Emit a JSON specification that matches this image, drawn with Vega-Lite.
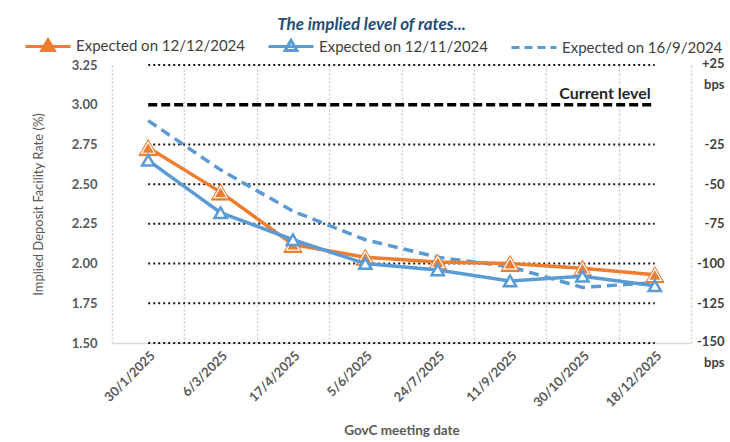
{
  "$schema": "https://vega.github.io/schema/vega-lite/v6.json",
  "width": 579,
  "height": 278,
  "autosize": {"type": "none"},
  "padding": {"left": 112, "top": 65, "right": 39, "bottom": 99},
  "background": "white",
  "config": {
    "font": "Lato",
    "view": {"stroke": null},
    "axisX": {
      "titleFont": "Lato", "titleFontSize": 13.5, "titleFontWeight": "bold", "titleColor": "#595959", "titlePadding": 14,
      "labelAngle": -45, "labelFont": "Lato", "labelFontSize": 13, "labelFontWeight": "bold", "labelColor": "#595959", "labelPadding": 6,
      "ticks": false, "domain": true, "domainColor": "#d9d9d9", "domainWidth": 1.5,
      "grid": true, "gridColor": "#cfcfcf", "gridDash": [2, 2], "gridWidth": 1.5, "tickBand": "extent"
    }
  },
  "title": {"text": "The implied level of rates...", "font": "Lato", "fontSize": 17, "fontStyle": "italic", "fontWeight": "bold", "color": "#1F4E79", "anchor": "middle", "dx": -30, "offset": -12},
  "datasets": {
    "rates": [
      {"date": "30/1/2025", "series": "Expected on 12/12/2024", "rate": 2.73},
      {"date": "6/3/2025", "series": "Expected on 12/12/2024", "rate": 2.45},
      {"date": "17/4/2025", "series": "Expected on 12/12/2024", "rate": 2.12},
      {"date": "5/6/2025", "series": "Expected on 12/12/2024", "rate": 2.04},
      {"date": "24/7/2025", "series": "Expected on 12/12/2024", "rate": 2.01},
      {"date": "11/9/2025", "series": "Expected on 12/12/2024", "rate": 2.0},
      {"date": "30/10/2025", "series": "Expected on 12/12/2024", "rate": 1.97},
      {"date": "18/12/2025", "series": "Expected on 12/12/2024", "rate": 1.93},
      {"date": "30/1/2025", "series": "Expected on 12/11/2024", "rate": 2.65},
      {"date": "6/3/2025", "series": "Expected on 12/11/2024", "rate": 2.32},
      {"date": "17/4/2025", "series": "Expected on 12/11/2024", "rate": 2.15},
      {"date": "5/6/2025", "series": "Expected on 12/11/2024", "rate": 2.0},
      {"date": "24/7/2025", "series": "Expected on 12/11/2024", "rate": 1.96},
      {"date": "11/9/2025", "series": "Expected on 12/11/2024", "rate": 1.89},
      {"date": "30/10/2025", "series": "Expected on 12/11/2024", "rate": 1.92},
      {"date": "18/12/2025", "series": "Expected on 12/11/2024", "rate": 1.86},
      {"date": "30/1/2025", "series": "Expected on 16/9/2024", "rate": 2.9},
      {"date": "6/3/2025", "series": "Expected on 16/9/2024", "rate": 2.59},
      {"date": "17/4/2025", "series": "Expected on 16/9/2024", "rate": 2.33},
      {"date": "5/6/2025", "series": "Expected on 16/9/2024", "rate": 2.15},
      {"date": "24/7/2025", "series": "Expected on 16/9/2024", "rate": 2.04},
      {"date": "11/9/2025", "series": "Expected on 16/9/2024", "rate": 1.98},
      {"date": "30/10/2025", "series": "Expected on 16/9/2024", "rate": 1.85},
      {"date": "18/12/2025", "series": "Expected on 16/9/2024", "rate": 1.88}
    ],
    "levels": [
      {"rate": 1.5, "from": "30/1/2025", "to": "18/12/2025"},
      {"rate": 1.75, "from": "30/1/2025", "to": "18/12/2025"},
      {"rate": 2.0, "from": "30/1/2025", "to": "18/12/2025"},
      {"rate": 2.25, "from": "30/1/2025", "to": "18/12/2025"},
      {"rate": 2.5, "from": "30/1/2025", "to": "18/12/2025"},
      {"rate": 2.75, "from": "30/1/2025", "to": "18/12/2025"},
      {"rate": 3.25, "from": "30/1/2025", "to": "18/12/2025"}
    ],
    "current": [
      {"rate": 3.0, "from": "30/1/2025", "to": "18/12/2025", "label": "Current level"}
    ]
  },
  "encoding": {
    "x": {
      "field": "date",
      "type": "ordinal",
      "scale": {"type": "band", "domain": ["30/1/2025", "6/3/2025", "17/4/2025", "5/6/2025", "24/7/2025", "11/9/2025", "30/10/2025", "18/12/2025"], "paddingInner": 0, "paddingOuter": 0},
      "axis": {"title": "GovC meeting date"}
    }
  },
  "layer": [
    {
      "encoding": {
        "y": {"field": "rate", "type": "quantitative", "scale": {"domain": [1.5, 3.25], "nice": false, "zero": false},
          "axis": {"title": "Implied Deposit Facility Rate (%)", "titleFont": "Lato", "titleFontSize": 13, "titleFontWeight": "normal", "titleColor": "#595959", "titlePadding": 26,
            "values": [1.5, 1.75, 2.0, 2.25, 2.5, 2.75, 3.0, 3.25], "format": ".2f", "labelFont": "Lato", "labelFontSize": 13, "labelFontWeight": "bold", "labelColor": "#595959", "labelPadding": 15,
            "ticks": false, "domain": false, "grid": false, "labelFlush": false, "labelOverlap": false}}
      },
      "layer": [
        {
          "data": {"name": "levels"},
          "mark": {"type": "rule", "color": "#1a1a1a", "strokeWidth": 2, "strokeDash": [2, 3]},
          "encoding": {
            "x": {"field": "from", "type": "ordinal", "axis": {"title": "GovC meeting date"}},
            "x2": {"field": "to"}
          }
        },
        {
          "data": {"name": "current"},
          "mark": {"type": "rule", "color": "#000000", "strokeWidth": 3.5, "strokeDash": [9, 4]},
          "encoding": {
            "x": {"field": "from", "type": "ordinal", "axis": {"title": "GovC meeting date"}},
            "x2": {"field": "to"}
          }
        },
        {
          "data": {"name": "current"},
          "mark": {"type": "text", "align": "right", "baseline": "alphabetic", "dx": -4, "dy": -6, "font": "Lato", "fontSize": 16, "fontWeight": "bold", "color": "#262626"},
          "encoding": {
            "x": {"field": "to", "type": "ordinal", "axis": {"title": "GovC meeting date"}},
            "text": {"field": "label"}
          }
        },
        {
          "data": {"name": "rates"},
          "transform": [{"filter": "datum.series == 'Expected on 16/9/2024'"}],
          "mark": {"type": "line", "strokeWidth": 3.5, "strokeDash": [10, 6]},
          "encoding": {
            "color": {"field": "series", "type": "nominal",
              "scale": {"domain": ["Expected on 12/12/2024", "Expected on 12/11/2024", "Expected on 16/9/2024"], "range": ["#ED7D31", "#5B9BD5", "#5B9BD5"]},
              "legend": {
                "title": null, "orient": "none", "legendX": -88, "legendY": -43, "direction": "horizontal", "columns": 3,
                "labelFont": "Lato", "labelFontSize": 15, "labelColor": "#404040", "labelOffset": 4, "columnPadding": 17, "labelLimit": 300,
                "symbolSize": 2025, "symbolStrokeWidth": 3,
                "encode": {
                  "symbols": {
                    "update": {
                      "shape": {"signal": "datum.value == 'Expected on 12/12/2024' ? 'M-1,0H1M-0.28,0.18L0,-0.3L0.28,0.18Z' : datum.value == 'Expected on 12/11/2024' ? 'M-1,0H1M-0.26,0.17L0,-0.28L0.26,0.17Z' : 'M-1,0H1'"},
                      "fill": {"signal": "datum.value == 'Expected on 12/12/2024' ? '#ED7D31' : datum.value == 'Expected on 12/11/2024' ? '#ffffff' : 'transparent'"},
                      "strokeDash": {"signal": "datum.value == 'Expected on 16/9/2024' ? [8, 5] : [1, 0]"}
                    }
                  }
                }
              }
            }
          }
        },
        {
          "data": {"name": "rates"},
          "transform": [{"filter": "datum.series == 'Expected on 12/12/2024'"}],
          "layer": [
            {"mark": {"type": "line", "strokeWidth": 3.5}, "encoding": {"color": {"field": "series", "type": "nominal"}}},
            {"mark": {"type": "point", "shape": "triangle-up", "size": 340, "fill": "#ED7D31", "stroke": "#ED7D31", "strokeWidth": 1, "opacity": 1, "filled": true}},
            {"mark": {"type": "point", "shape": "triangle-up", "size": 170, "fill": "#ED7D31", "stroke": "#ffffff", "strokeWidth": 1.2, "opacity": 1, "filled": true}}
          ]
        },
        {
          "data": {"name": "rates"},
          "transform": [{"filter": "datum.series == 'Expected on 12/11/2024'"}],
          "layer": [
            {"mark": {"type": "line", "strokeWidth": 3.5}, "encoding": {"color": {"field": "series", "type": "nominal"}}},
            {"mark": {"type": "point", "shape": "triangle-up", "size": 150, "fill": "#ffffff", "stroke": "#5B9BD5", "strokeWidth": 2.5, "opacity": 1, "filled": false}}
          ]
        }
      ]
    },
    {
      "data": {"name": "rates"},
      "mark": {"type": "point", "opacity": 0},
      "encoding": {
        "y": {"field": "rate", "type": "quantitative", "scale": {"domain": [1.5, 3.25], "nice": false, "zero": false},
          "axis": {"orient": "right", "title": null, "grid": false, "ticks": false, "domain": false,
            "values": [3.25, 2.75, 2.5, 2.25, 2.0, 1.75, 1.5],
            "labelExpr": "datum.value == 3.25 ? ['+25', 'bps'] : datum.value == 1.5 ? ['-150', 'bps'] : '' + round((datum.value - 3) * 100)",
            "labelAlign": "right", "labelPadding": 33, "labelFont": "Lato", "labelFontSize": 13, "labelFontWeight": "bold", "labelColor": "#404040",
            "labelBaseline": {"condition": {"test": "datum.value == 3.25 || datum.value == 1.5", "value": "top"}, "value": "middle"},
            "labelOffset": {"condition": {"test": "datum.value == 3.25 || datum.value == 1.5", "value": -8}, "value": 0},
            "labelLineHeight": 21, "labelFlush": false, "labelOverlap": false, "labelBound": false}}
      }
    }
  ],
  "resolve": {"scale": {"y": "independent"}}
}
